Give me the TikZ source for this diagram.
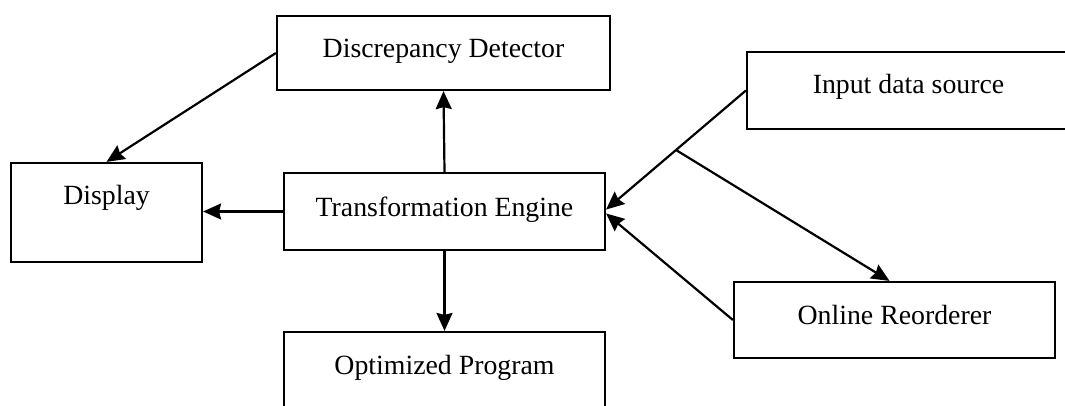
\documentclass[tikz,border=0pt]{standalone}
\usepackage{fontspec}
\setmainfont{Liberation Serif}
\usetikzlibrary{arrows.meta,calc}

\tikzset{
  box/.style={draw=black, line width=2.2pt, fill=white, inner sep=0pt},
  lbl/.style={anchor=base, inner sep=0pt, font=\fontsize{27.8}{33}\selectfont},
  flow/.style={line width=2.2pt, -{Stealth[length=18pt,width=16pt,inset=2pt]}},
  wire/.style={line width=2.2pt}
}

\begin{document}
\begin{tikzpicture}[x=1pt,y=-1pt]
  \useasboundingbox (0,0) rectangle (1065,405);
  \fill[white] (0,0) rectangle (1065,405);
  \clip (0,0) rectangle (1065,405);

  % boxes
  \node[box, minimum width=333pt, minimum height=74pt] (dd) at (443.5,53) {};
  \node[box, minimum width=323pt, minimum height=77pt] (ids) at (908.5,90.5) {};
  \node[box, minimum width=191pt, minimum height=99pt] (disp) at (106.5,212.5) {};
  \node[box, minimum width=321pt, minimum height=77pt] (te) at (444.5,211.5) {};
  \node[box, minimum width=321pt, minimum height=76pt] (reord) at (894.5,320) {};
  \node[box, minimum width=321pt, minimum height=77pt] (op) at (444.5,370.5) {};

  % box titles, set near the top of each box
  \node[lbl] (ddt) at ([yshift=-43pt]dd.north) {Discrepancy Detector};
  \node[lbl] (idst) at ([yshift=-43pt]ids.north) {Input data source};
  \node[lbl] (dispt) at ([yshift=-43pt]disp.north) {Display};
  \node[lbl] (tet) at ([yshift=-45pt]te.north) {Transformation Engine};
  \node[lbl] (reordt) at ([yshift=-44pt]reord.north) {Online Reorderer};
  \node[lbl] (opt) at ([yshift=-44pt]op.north) {Optimized Program};

  % connectors
  \draw[flow] (te.north) -- (dd.south);
  \draw[flow] (te.west) -- (te.west -| disp.east);
  \draw[flow] (dd.west) -- (disp.north);
  \draw[flow] (te.south) -- (op.north);

  \coordinate (br) at ($(ids.west)!0.5!([yshift=2pt]te.east)$);
  \draw[wire] (ids.west) -- (br);
  \draw[flow] (br) -- ([yshift=2pt]te.east);
  \draw[flow] (br) -- ([xshift=-5pt]reord.north);
  \draw[flow] (reord.west) -- ([yshift=-2pt]te.east);
\end{tikzpicture}
\end{document}
